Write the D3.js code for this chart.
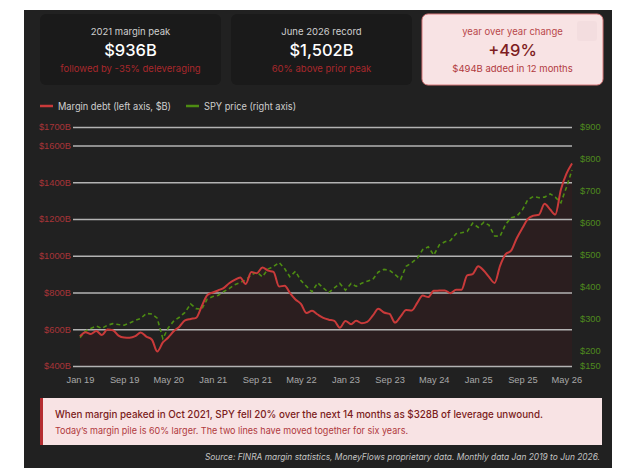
<!DOCTYPE html>
<html>
<head>
<meta charset="utf-8">
<script src="https://cdn.jsdelivr.net/npm/d3@7"></script>
<style>
	body { margin: 0; background: #fff; font-family: Inter, "Noto Sans", sans-serif; }
</style>
</head>
<body>
<div id="chart"></div>
<script>
// monthly values, Jan 2019 .. Jun 2026
var marginDebt = [562,584,574,591,568,598,595,565,555,554,562,582,
	560,543,479,528,555,590,614,648,656,662,725,785,
	800,812,824,850,868,882,846,911,905,936,919,912,
	832,837,798,762,738,688,700,680,662,652,645,608,
	645,627,646,633,640,675,711,691,683,636,670,705,
	702,745,783,775,809,810,811,796,815,815,893,900,
	942,918,885,852,945,1008,1027,1095,1150,1200,1218,1223,
	1282,1251,1224,1360,1445,1502];
var spyPrice = [239,260,268,275,268,278,283,280,278,285,293,299,
	315,313,300,236,270,292,303,318,345,330,328,360,
	368,372,383,393,405,412,420,436,444,430,454,462,
	475,455,430,447,418,400,383,411,395,380,395,409,
	388,409,400,410,416,422,445,453,450,437,422,463,
	474,488,515,524,498,530,540,544,565,568,572,598,
	585,601,592,558,557,595,615,620,640,672,682,678,
	680,690,680,662,710,765];
var firstMonth = "2019-01";
var xTickLabels = ["Jan 19","Sep 19","May 20","Jan 21","Sep 21","May 22","Jan 23","Sep 23","May 24","Jan 25","Sep 25","May 26"];
var leftTicks = [400,600,800,1000,1200,1400,1600,1700];
var rightTicks = [150,200,300,400,500,600,700,800,900];

var cardTitles = ["2021 margin peak", "June 2026 record", "year over year change"];
var cardValues = ["$936B", "$1,502B", "+49%"];
var cardNotes = ["followed by -35% deleveraging", "60% above prior peak", "$494B added in 12 months"];
var legendLabels = ["Margin debt (left axis, $B)", "SPY price (right axis)"];
var calloutMain = "When margin peaked in Oct 2021, SPY fell 20% over the next 14 months as $328B of leverage unwound.";
var calloutSub = "Today\u2019s margin pile is 60% larger. The two lines have moved together for six years.";
var sourceText = "Source: FINRA margin statistics, MoneyFlows proprietary data. Monthly data Jan 2019 to Jun 2026.";

var width = 624, height = 474;
var red = "#c93a3a", green = "#4d8c12";
var tickFont = "'Liberation Sans', Arial, sans-serif";

var svg = d3.select("#chart").append("svg")
	.attr("width", width)
	.attr("height", height);

// dark panel
svg.append("rect")
	.attr("x", 24).attr("y", 10)
	.attr("width", 588).attr("height", 458)
	.attr("fill", "#212121");

// cards
var cardW = 181, cardGap = 10;
cardTitles.forEach(function(t, i){
	var cx = 40 + i * (cardW + cardGap);
	var hot = (i == 2);
	svg.append("rect")
		.attr("x", cx).attr("y", 14)
		.attr("width", cardW).attr("height", 71)
		.attr("rx", 6)
		.attr("fill", hot ? "#f8e3e4" : "#1a1a1a")
		.attr("stroke", hot ? "#d8797b" : "none")
		.attr("stroke-width", 1);
	if (hot) {
		svg.append("rect")
			.attr("x", cx + 155).attr("y", 21)
			.attr("width", 20).attr("height", 20)
			.attr("rx", 3)
			.attr("fill", "#f3dddf");
	}
	var mid = cx + cardW / 2;
	svg.append("text")
		.attr("x", mid).attr("y", 35)
		.attr("text-anchor", "middle")
		.style("font-size", "9.5px")
		.attr("fill", hot ? "#b8474b" : "#cfcfcf")
		.text(t);
	svg.append("text")
		.attr("x", mid).attr("y", 56)
		.attr("text-anchor", "middle")
		.style("font-size", "16.5px")
		.style("font-weight", "500")
		.attr("fill", hot ? "#7e1d22" : "#ffffff")
		.text(cardValues[i]);
	svg.append("text")
		.attr("x", mid).attr("y", 72)
		.attr("text-anchor", "middle")
		.style("font-size", "9.5px")
		.attr("fill", hot ? "#b23a3e" : "#a8282c")
		.text(cardNotes[i]);
});

// legend
[[40, red, 113], [186, green, 92]].forEach(function(l, i){
	svg.append("line")
		.attr("x1", l[0]).attr("x2", l[0] + 13)
		.attr("y1", 106).attr("y2", 106)
		.attr("stroke", l[1]).attr("stroke-width", 2.5);
	svg.append("text")
		.attr("x", l[0] + 18).attr("y", 109.5)
		.style("font-size", "9.8px")
		.attr("textLength", l[2])
		.attr("lengthAdjust", "spacingAndGlyphs")
		.attr("fill", "#cfcfcf")
		.text(legendLabels[i]);
});

// scales
var parseMonth = d3.timeParse("%Y-%m");
var start = parseMonth(firstMonth);
var months = marginDebt.map(function(d, i){ return d3.timeMonth.offset(start, i); });
var x = d3.scaleTime()
	.domain([months[0], months[months.length - 1]])
	.range([80, 572]);
var yL = d3.scaleLinear().domain([400, 1700]).range([366, 127]);
var yR = d3.scaleLinear().domain([150, 900]).range([366, 127]);

var series = months.map(function(m, i){ return {date: m, debt: marginDebt[i], spy: spyPrice[i]}; });

// area under margin debt
var area = d3.area()
	.x(function(d){ return x(d.date); })
	.y0(yL(400))
	.y1(function(d){ return yL(d.debt); })
	.curve(d3.curveMonotoneX);
svg.append("path")
	.datum(series)
	.attr("d", area)
	.attr("fill", "#2b1e1f");

// left axis + grid
var left = svg.append("g")
	.attr("transform", "translate(80,0)")
	.call(d3.axisLeft(yL).tickValues(leftTicks)
		.tickSize(-(572 - 80))
		.tickPadding(9)
		.tickFormat(function(d){ return "$" + d + "B"; }));
left.select(".domain").remove();
left.selectAll(".tick line")
	.attr("x1", -7)
	.attr("stroke", "#b3b3b3")
	.attr("stroke-width", 1.5);
left.selectAll(".tick text")
	.attr("fill", "#a83438")
	.style("font-family", tickFont)
	.style("font-size", "9.3px");

// right axis
var right = svg.append("g")
	.attr("transform", "translate(572,0)")
	.call(d3.axisRight(yR).tickValues(rightTicks)
		.tickSize(0).tickPadding(8)
		.tickFormat(function(d){ return "$" + d; }));
right.select(".domain").remove();
right.selectAll(".tick text")
	.attr("fill", "#4f8a1e")
	.style("font-family", tickFont)
	.style("font-size", "9.3px");

// x axis
var tickDates = xTickLabels.map(d3.timeParse("%b %y"));
var bottom = svg.append("g")
	.attr("transform", "translate(0,366)")
	.call(d3.axisBottom(x).tickValues(tickDates)
		.tickSize(0).tickPadding(10)
		.tickFormat(d3.timeFormat("%b %y")));
bottom.select(".domain").remove();
bottom.selectAll(".tick text")
	.attr("fill", "#a8a8a8")
	.style("font-family", tickFont)
	.style("font-size", "9.3px");

// SPY line
var spyLine = d3.line()
	.x(function(d){ return x(d.date); })
	.y(function(d){ return yR(d.spy); });
svg.append("path")
	.datum(series)
	.attr("d", spyLine)
	.attr("fill", "none")
	.attr("stroke", green)
	.attr("stroke-width", 1.6)
	.attr("stroke-dasharray", "4,3");

// margin debt line
var debtLine = d3.line()
	.x(function(d){ return x(d.date); })
	.y(function(d){ return yL(d.debt); })
	.curve(d3.curveMonotoneX);
svg.append("path")
	.datum(series)
	.attr("d", debtLine)
	.attr("fill", "none")
	.attr("stroke", red)
	.attr("stroke-width", 2);

// callout
svg.append("rect")
	.attr("x", 40).attr("y", 398)
	.attr("width", 562).attr("height", 47)
	.attr("fill", "#f8e3e4");
svg.append("rect")
	.attr("x", 40).attr("y", 398)
	.attr("width", 3).attr("height", 47)
	.attr("fill", "#b52d31");
svg.append("text")
	.attr("x", 55).attr("y", 418)
	.style("font-size", "10.6px")
	.style("font-weight", "500")
	.attr("textLength", 488)
	.attr("lengthAdjust", "spacingAndGlyphs")
	.attr("fill", "#7b1c20")
	.text(calloutMain);
svg.append("text")
	.attr("x", 55).attr("y", 434)
	.style("font-size", "9.4px")
	.attr("textLength", 353)
	.attr("lengthAdjust", "spacingAndGlyphs")
	.attr("fill", "#b0393c")
	.text(calloutSub);

// source
svg.append("text")
	.attr("x", 600).attr("y", 460)
	.attr("text-anchor", "end")
	.style("font-size", "8.4px")
	.style("font-style", "italic")
	.attr("fill", "#c4c4c4")
	.text(sourceText);
</script>
</body>
</html>
